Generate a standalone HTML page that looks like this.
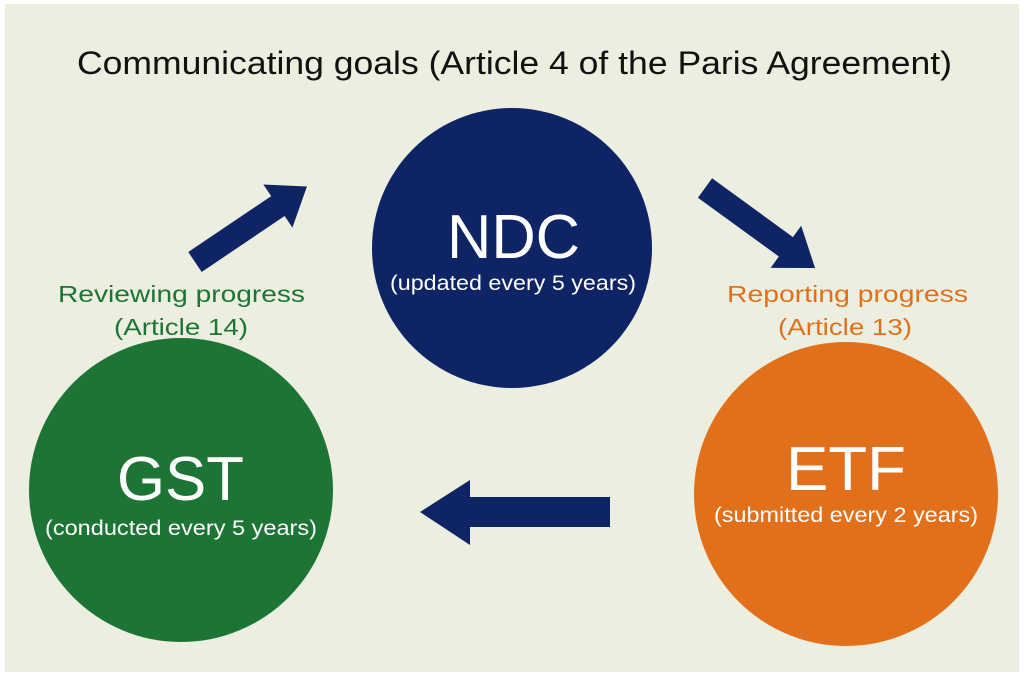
<!DOCTYPE html>
<html><head><style>
html,body{margin:0;padding:0;background:#fff;}
#c{position:absolute;left:5px;top:4px;width:1014px;height:668px;background:#ecefe0;}
</style></head><body>
<div id="c"></div>
<svg width="1024" height="676" style="position:absolute;left:0;top:0" font-family="Liberation Sans, sans-serif">
<circle cx="512" cy="248" r="140" fill="#0e2464"/>
<circle cx="181" cy="490" r="152" fill="#1c7535"/>
<circle cx="846" cy="494" r="152" fill="#e2701b"/>
<g transform="translate(195,262) rotate(-34)">
<polygon points="0,-12 100,-12 100,-26 135,0 100,26 100,12 0,12" fill="#0e2464"/>
</g>
<g transform="translate(705,188) rotate(36)">
<polygon points="0,-12 100,-12 100,-26 136,0 100,26 100,12 0,12" fill="#0e2464"/>
</g>
<polygon points="610,497 470,497 470,480 420,512 470,545 470,527 610,527" fill="#0e2464"/>
<text x="77" y="74" font-size="32" textLength="875" lengthAdjust="spacingAndGlyphs" fill="#111">Communicating goals (Article 4 of the Paris Agreement)</text>
<text x="447" y="258" font-size="62" textLength="133" lengthAdjust="spacingAndGlyphs" fill="#fff">NDC</text>
<text x="390" y="290" font-size="21" textLength="246" lengthAdjust="spacingAndGlyphs" fill="#fff">(updated every  5 years)</text>
<text x="117" y="500" font-size="62" textLength="127" lengthAdjust="spacingAndGlyphs" fill="#fff">GST</text>
<text x="45" y="535" font-size="21" textLength="272" lengthAdjust="spacingAndGlyphs" fill="#fff">(conducted every  5 years)</text>
<text x="786" y="490" font-size="62" textLength="120" lengthAdjust="spacingAndGlyphs" fill="#fff">ETF</text>
<text x="714" y="522" font-size="21" textLength="264" lengthAdjust="spacingAndGlyphs" fill="#fff">(submitted every 2 years)</text>
<text x="58" y="302" font-size="23" textLength="247" lengthAdjust="spacingAndGlyphs" fill="#1c7535">Reviewing progress</text>
<text x="114" y="335" font-size="23" textLength="134" lengthAdjust="spacingAndGlyphs" fill="#1c7535">(Article 14)</text>
<text x="727" y="302" font-size="23" textLength="241" lengthAdjust="spacingAndGlyphs" fill="#e2701b">Reporting progress</text>
<text x="778" y="335" font-size="23" textLength="134" lengthAdjust="spacingAndGlyphs" fill="#e2701b">(Article 13)</text>
</svg>
</body></html>
